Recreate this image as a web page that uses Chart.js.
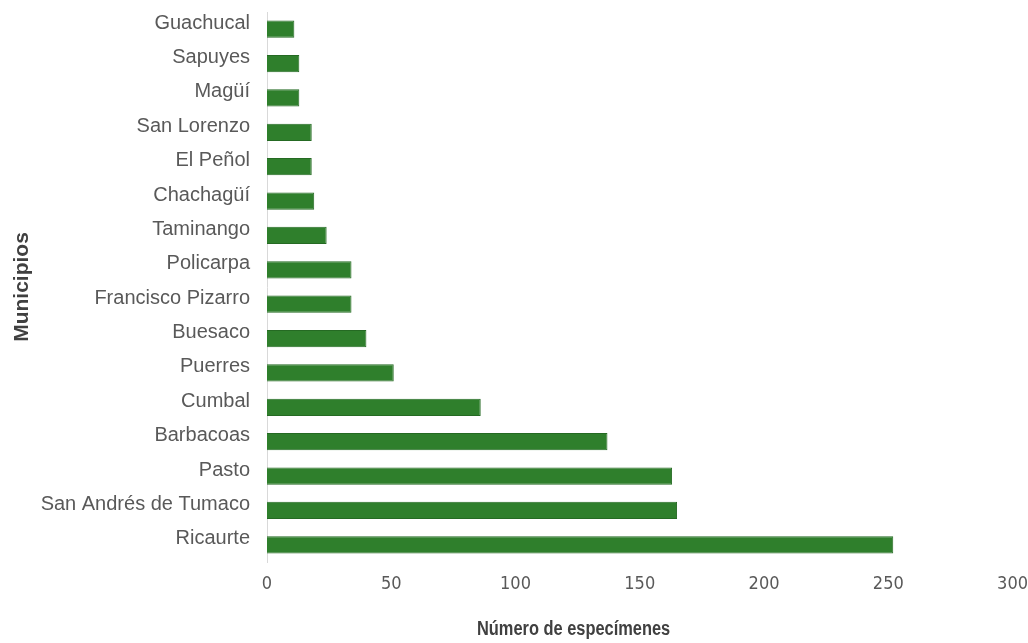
<!DOCTYPE html>
<html>
<head>
<meta charset="utf-8">
<script src="https://cdn.jsdelivr.net/npm/chart.js@4"></script>
<style>
  html, body { margin: 0; padding: 0; background: #fff; }
  #wrap { width: 1028px; height: 643px; }
</style>
</head>
<body>
<div id="wrap"><canvas id="chart"></canvas></div>
<script>
// Municipios, top to bottom
const municipios = [
  'Guachucal', 'Sapuyes', 'Magüí', 'San Lorenzo', 'El Peñol', 'Chachagüí',
  'Taminango', 'Policarpa', 'Francisco Pizarro', 'Buesaco', 'Puerres',
  'Cumbal', 'Barbacoas', 'Pasto', 'San Andrés de Tumaco', 'Ricaurte'
];
const especimenes = [11, 13, 13, 18, 18, 19, 24, 34, 34, 40, 51, 86, 137, 163, 165, 252];
const xTicks = [0, 50, 100, 150, 200, 250, 300];
const yTitle = 'Municipios';
const xTitle = 'Número de especímenes';

const narrow = "'Liberation Sans Narrow', 'DejaVu Sans Condensed', 'Liberation Sans', Arial, sans-serif";
const sans = "'Liberation Sans', Arial, sans-serif";

// x title sits left of the plot centre in the original, so draw it ourselves
const xTitlePlugin = {
  id: 'xTitle',
  afterDraw(chart) {
    const ctx = chart.ctx;
    ctx.save();
    ctx.font = "bold 20px " + sans;
    ctx.fillStyle = '#404040';
    ctx.textAlign = 'left';
    ctx.textBaseline = 'middle';
    ctx.translate(477, 629);
    ctx.scale(0.82, 1);   // condensed look
    ctx.fillText(xTitle, 0, 0);
    ctx.restore();
  }
};

new Chart(document.getElementById('chart'), {
  type: 'bar',
  data: {
    labels: municipios,
    datasets: [{
      data: especimenes,
      backgroundColor: '#2f7f2c',
      borderColor: '#256a23',
      borderWidth: 1,
      barPercentage: 1,
      categoryPercentage: 0.5
    }]
  },
  options: {
    indexAxis: 'y',
    responsive: true,
    maintainAspectRatio: false,
    animation: false,
    layout: { padding: 0 },
    plugins: {
      legend: { display: false },
      tooltip: { enabled: false }
    },
    scales: {
      x: {
        min: 0,
        max: 300,
        afterBuildTicks: (axis) => { axis.ticks = xTicks.map(v => ({ value: v })); },
        afterFit: (axis) => { axis.height = 81; },
        grid: { display: false, drawTicks: true, tickLength: 12 },
        border: { display: false },
        ticks: {
          padding: 0,
          color: '#595959',
          font: { family: narrow, size: 18 }
        }
      },
      y: {
        afterFit: (axis) => { axis.width = 267; },
        grid: { display: false, drawTicks: true, tickLength: 17 },
        border: { display: true, color: '#d9d9d9', width: 1 },
        ticks: {
          padding: 0,
          labelOffset: -6,
          color: '#595959',
          font: { family: sans, size: 20 }
        },
        title: {
          display: true,
          text: yTitle,
          color: '#404040',
          padding: { top: 10, bottom: 0 },
          font: { family: sans, size: 21, weight: 'bold' }
        }
      }
    }
  },
  plugins: [xTitlePlugin]
});
</script>
</body>
</html>
